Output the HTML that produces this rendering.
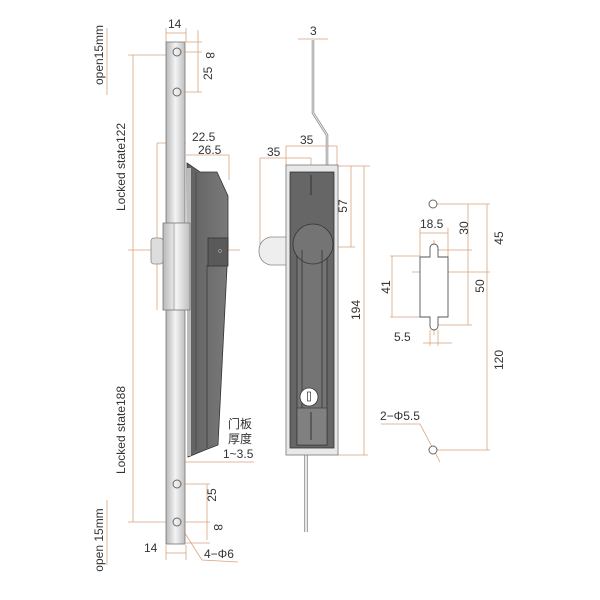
<!DOCTYPE html>
<html><head><meta charset="utf-8"><style>html,body{margin:0;padding:0;background:#fff}svg{display:block}</style></head>
<body>
<svg width="600" height="600" viewBox="0 0 600 600" xmlns="http://www.w3.org/2000/svg" font-family="Liberation Sans, Noto Sans CJK SC, sans-serif" font-size="12" fill="#333">
<defs>
<linearGradient id="bar" x1="0" x2="1"><stop offset="0" stop-color="#b8b8b8"/><stop offset="0.5" stop-color="#f4f4f4"/><stop offset="1" stop-color="#bdbdbd"/></linearGradient>
<linearGradient id="dk" x1="0" x2="1"><stop offset="0" stop-color="#606060"/><stop offset="1" stop-color="#7a7a7a"/></linearGradient>
</defs>
<g stroke="#d9a27c" stroke-width="0.8" fill="none">
<line x1="166" y1="33" x2="186" y2="33"/><line x1="166" y1="28" x2="166" y2="42"/><line x1="186" y1="28" x2="186" y2="42"/>
<line x1="186" y1="42" x2="202" y2="42"/><line x1="180" y1="52" x2="202" y2="52"/><line x1="180" y1="92" x2="202" y2="92"/>
<line x1="198" y1="30" x2="198" y2="92"/>
<line x1="157" y1="143" x2="186" y2="143"/><line x1="157" y1="143" x2="157" y2="310"/>
<line x1="186" y1="155" x2="229" y2="155"/><line x1="229" y1="155" x2="229" y2="180"/>
<line x1="133" y1="55" x2="133" y2="522"/><line x1="128" y1="55" x2="166" y2="55"/>
<line x1="128" y1="250" x2="240" y2="250"/><line x1="128" y1="522" x2="210" y2="522"/>
<line x1="107" y1="28" x2="107" y2="95"/><line x1="107" y1="500" x2="107" y2="565"/>
<line x1="180" y1="484" x2="210" y2="484"/><line x1="207" y1="484" x2="207" y2="540"/><line x1="186" y1="543" x2="210" y2="543"/>
<line x1="166" y1="553" x2="186" y2="553"/><line x1="166" y1="545" x2="166" y2="560"/><line x1="186" y1="545" x2="186" y2="560"/>
<polyline points="168,507 202,560 238,562"/>
<line x1="180" y1="462" x2="254" y2="462"/>
<line x1="298" y1="39" x2="328" y2="39"/>
<line x1="286" y1="146" x2="337" y2="146"/><line x1="286" y1="146" x2="286" y2="165"/><line x1="337" y1="146" x2="337" y2="165"/>
<line x1="260" y1="158" x2="311" y2="158"/><line x1="260" y1="158" x2="260" y2="245"/><line x1="311" y1="158" x2="311" y2="170"/>
<line x1="338" y1="166" x2="370" y2="166"/><line x1="351" y1="166" x2="351" y2="247"/><line x1="313" y1="247" x2="355" y2="247"/>
<line x1="364" y1="166" x2="364" y2="455"/><line x1="338" y1="455" x2="368" y2="455"/>
<line x1="437" y1="204" x2="490" y2="204"/><line x1="420" y1="233" x2="448" y2="233"/><line x1="420" y1="228" x2="420" y2="257"/><line x1="448" y1="228" x2="448" y2="257"/>
<line x1="438" y1="250" x2="472" y2="250"/><line x1="468" y1="204" x2="468" y2="325"/><line x1="438" y1="325" x2="472" y2="325"/>
<line x1="487" y1="204" x2="487" y2="450"/><line x1="412" y1="272" x2="490" y2="272"/><line x1="437" y1="450" x2="490" y2="450"/>
<line x1="392" y1="256" x2="392" y2="317"/><line x1="390" y1="256" x2="420" y2="256"/><line x1="390" y1="317" x2="420" y2="317"/>
<line x1="423" y1="343" x2="452" y2="343"/><line x1="430" y1="330" x2="430" y2="346"/><line x1="438" y1="330" x2="438" y2="346"/>
<line x1="434" y1="240" x2="434" y2="335"/>
<polyline points="381,424 420,424 440,462"/>
</g>
<path d="M187,163 L200,172 L217,172 L228,196 L228,248 L218,445 L205,450 L188,457 Z" fill="url(#dk)" stroke="#333" stroke-width="0.8"/>
<rect x="187" y="168" width="4" height="288" fill="#bbb"/>
<line x1="196" y1="172" x2="196" y2="450" stroke="#444" stroke-width="0.8"/>
<line x1="207" y1="265" x2="207" y2="448" stroke="#3a3a3a" stroke-width="0.8"/>
<rect x="208" y="238" width="20" height="28" fill="#5a5a5a" stroke="#333" stroke-width="0.8"/>
<circle cx="220" cy="251" r="1.5" fill="none" stroke="#ccc" stroke-width="0.5"/>
<rect x="166" y="42" width="19" height="502" fill="url(#bar)" stroke="#777" stroke-width="0.8"/>
<circle cx="177" cy="52" r="4" fill="none" stroke="#666"/><circle cx="177" cy="92" r="4" fill="none" stroke="#666"/>
<circle cx="177" cy="484" r="4" fill="none" stroke="#666"/><circle cx="177" cy="522" r="4" fill="none" stroke="#666"/>
<rect x="163" y="223" width="27" height="87" fill="url(#bar)" stroke="#777" stroke-width="0.8"/>
<line x1="174" y1="223" x2="174" y2="310" stroke="#888" stroke-width="0.6"/>
<rect x="151" y="238" width="12" height="26" rx="3" fill="#ddd" stroke="#888" stroke-width="0.8"/>
<polyline points="313,40 313,113 327,135 327,166" fill="none" stroke="#888" stroke-width="2.5"/>
<polyline points="313,40 313,113 327,135 327,166" fill="none" stroke="#f0f0f0" stroke-width="1"/>
<line x1="306" y1="455" x2="306" y2="532" stroke="#888" stroke-width="3.5"/>
<line x1="306" y1="455" x2="306" y2="532" stroke="#f0f0f0" stroke-width="1.8"/>
<path d="M287,237 L270,237 Q259,240 259,251 Q259,262 270,265 L287,265 Z" fill="#eee" stroke="#888" stroke-width="0.8"/>
<rect x="286" y="165" width="52" height="290" fill="#e8e8e8" stroke="#777" stroke-width="0.8"/>
<rect x="290" y="172" width="44" height="276" fill="#666" stroke="#333" stroke-width="0.8"/>
<rect x="297" y="245" width="30" height="200" fill="#747474" stroke="#333" stroke-width="0.8"/>
<circle cx="313" cy="244" r="20" fill="#747474" stroke="#333" stroke-width="0.8"/>
<line x1="302" y1="250" x2="302" y2="440" stroke="#333" stroke-width="0.8"/><line x1="322" y1="250" x2="322" y2="440" stroke="#333" stroke-width="0.8"/>
<line x1="311" y1="175" x2="311" y2="195" stroke="#333"/>
<rect x="297" y="408" width="30" height="37" fill="#808080" stroke="#333" stroke-width="0.6"/>
<line x1="311" y1="412" x2="311" y2="440" stroke="#333"/>
<circle cx="309" cy="397" r="9" fill="#fff" stroke="#333" stroke-width="0.8"/>
<rect x="307.5" y="392" width="3" height="9" fill="none" stroke="#333" stroke-width="0.7"/>
<circle cx="433" cy="204" r="4" fill="#fff" stroke="#666"/><circle cx="433" cy="450" r="4" fill="#fff" stroke="#666"/>
<path d="M420,257 L430,257 L430,248 A4,4 0 0 1 438,248 L438,257 L448,257 L448,317 L438,317 L438,326 A4,4 0 0 1 430,326 L430,317 L420,317 Z" fill="#fff" stroke="#555" stroke-width="0.9"/>
<g font-size="12">
<text x="168" y="28">14</text><text x="213" y="49" transform="rotate(90 208 47)">8</text>
<text x="201" y="77" transform="rotate(-90 208 73)">25</text>
<text x="192" y="141">22.5</text><text x="198" y="154">26.5</text>
<text x="125" y="167" transform="rotate(-90 125 167)" text-anchor="middle">Locked state122</text>
<text x="103" y="55" transform="rotate(-90 103 55)" text-anchor="middle">open15mm</text>
<text x="125" y="430" transform="rotate(-90 125 430)" text-anchor="middle">Locked state188</text>
<text x="103" y="540" transform="rotate(-90 103 540)" text-anchor="middle">open 15mm</text>
<text x="219" y="498" transform="rotate(-90 216 498)" text-anchor="middle">25</text>
<text x="212" y="530" transform="rotate(90 216 528)">8</text>
<text x="144" y="552">14</text><text x="204" y="558">4−Φ6</text>
<text x="228" y="428">门板</text><text x="228" y="443">厚度</text><text x="223" y="458">1~3.5</text>
<text x="310" y="35">3</text><text x="300" y="144">35</text><text x="267" y="156">35</text>
<text x="347" y="206" transform="rotate(-90 347 206)" text-anchor="middle">57</text>
<text x="360" y="310" transform="rotate(-90 360 310)" text-anchor="middle">194</text>
<text x="420" y="228">18.5</text>
<text x="464" y="232" transform="rotate(-90 464 228)" text-anchor="middle">30</text>
<text x="500" y="241" transform="rotate(-90 500 238)" text-anchor="middle">45</text>
<text x="481" y="289" transform="rotate(-90 481 286)" text-anchor="middle">50</text>
<text x="386" y="291" transform="rotate(-90 386 287)" text-anchor="middle">41</text>
<text x="500" y="363" transform="rotate(-90 500 360)" text-anchor="middle">120</text>
<text x="394" y="341">5.5</text><text x="380" y="420">2−Φ5.5</text>
</g>
</svg>
</body></html>
